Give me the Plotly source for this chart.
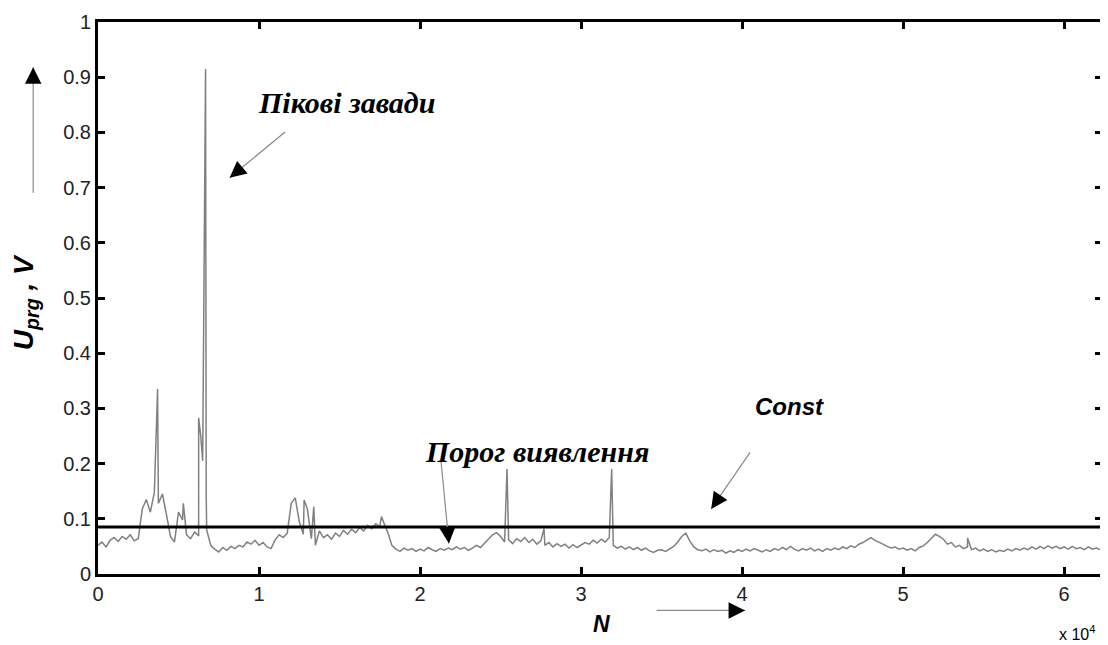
import plotly.graph_objects as go

# ---------------- data ----------------
N_STEP = 250  # sample spacing of the base trace (N units)
u_base = [
    0.052, 0.058, 0.049, 0.061, 0.066, 0.059, 0.068, 0.063, 0.071, 0.060,
    0.064, 0.118, 0.135, 0.112, 0.148, 0.128, 0.145, 0.108, 0.068, 0.058,
    0.112, 0.098, 0.071, 0.064, 0.076, 0.069, 0.205, 0.080, 0.052, 0.045,
    0.040, 0.048, 0.043, 0.050, 0.046, 0.052, 0.049, 0.058, 0.054, 0.061,
    0.052, 0.057, 0.049, 0.046, 0.062, 0.071, 0.066, 0.074, 0.128, 0.138,
    0.095, 0.072, 0.118, 0.064, 0.052, 0.078, 0.066, 0.071, 0.063, 0.074,
    0.068, 0.079, 0.072, 0.081, 0.075, 0.084, 0.078, 0.088, 0.082, 0.091,
    0.086, 0.093, 0.075, 0.052, 0.045, 0.041, 0.047, 0.043, 0.046, 0.041,
    0.045, 0.042, 0.048, 0.044, 0.041, 0.046, 0.043, 0.047, 0.044, 0.049,
    0.045, 0.048, 0.043, 0.047, 0.052, 0.048, 0.056, 0.063, 0.071, 0.075,
    0.068, 0.058, 0.062, 0.055, 0.064, 0.059, 0.066, 0.057, 0.063, 0.054,
    0.060, 0.052, 0.057, 0.049, 0.055, 0.050, 0.054, 0.047, 0.053, 0.048,
    0.052, 0.057, 0.054, 0.061, 0.056, 0.063, 0.058, 0.066, 0.052, 0.047,
    0.050, 0.045, 0.049, 0.044, 0.048, 0.043, 0.047, 0.042, 0.039, 0.043,
    0.044, 0.041, 0.046, 0.050, 0.058, 0.068, 0.074, 0.060, 0.049, 0.044,
    0.042, 0.045, 0.040, 0.044, 0.041, 0.043, 0.038, 0.042, 0.039, 0.044,
    0.041, 0.045, 0.042, 0.046, 0.043, 0.040, 0.044, 0.041, 0.046, 0.043,
    0.048, 0.044, 0.050, 0.045, 0.042, 0.046, 0.043, 0.047, 0.042, 0.045,
    0.041, 0.046, 0.043, 0.047, 0.044, 0.049, 0.046, 0.051, 0.048, 0.054,
    0.057, 0.062, 0.066, 0.061, 0.058, 0.054, 0.050, 0.047, 0.049, 0.045,
    0.047, 0.043, 0.046, 0.042, 0.048, 0.051, 0.057, 0.065, 0.072, 0.068,
    0.063, 0.054, 0.057, 0.049, 0.052, 0.046, 0.049, 0.044, 0.047, 0.042,
    0.045, 0.041, 0.044, 0.040, 0.043, 0.041, 0.045, 0.042, 0.046, 0.043,
    0.047, 0.044, 0.049, 0.045, 0.050, 0.046, 0.051, 0.047, 0.050, 0.046,
    0.049, 0.045, 0.050, 0.046, 0.048, 0.044, 0.049, 0.045, 0.047, 0.044,
]
spike_n = [3700, 5300, 6250, 6380, 6680, 6720, 12800, 13400, 17600,
           25400, 27700, 31900, 54000]
spike_u = [0.335, 0.128, 0.283, 0.250, 0.915, 0.143, 0.134, 0.122, 0.104,
           0.190, 0.082, 0.190, 0.065]
threshold = 0.085

x_range = [0, 62350]
y_range = [0, 1]
x_tickvals = [0, 10000, 20000, 30000, 40000, 50000, 60000]
x_ticktext = ["0", "1", "2", "3", "4", "5", "6"]
y_tickvals = [0, 0.1, 0.2, 0.3, 0.4, 0.5, 0.6, 0.7, 0.8, 0.9, 1]
y_ticktext = ["0", "0.1", "0.2", "0.3", "0.4", "0.5", "0.6", "0.7", "0.8", "0.9", "1"]

# merge base samples with spike samples
pts = [(i * N_STEP, v) for i, v in enumerate(u_base)] + list(zip(spike_n, spike_u))
pts.sort(key=lambda p: p[0])
xs = [p[0] for p in pts]
ys = [p[1] for p in pts]

# ---------------- layout geometry ----------------
# page has an 8px body margin; positions below are page pixels
OFF = 8
PAGE_W, PAGE_H = 1108, 645
W, H = PAGE_W - OFF, PAGE_H - OFF
PL, PR, PT, PB = 98, 1105, 14, 574  # plot area in page pixels
ML, MR, MT, MB = PL - OFF, W - (PR - OFF), PT - OFF, H - (PB - OFF)
PW, PH = PR - PL, PB - PT


def px(xp, yp):
    return (xp - PL) / PW, (PB - yp) / PH


fig = go.Figure()
fig.add_trace(go.Scatter(x=xs, y=ys, mode="lines",
                         line=dict(color="#808080", width=1.5),
                         showlegend=False, hoverinfo="skip"))
fig.add_hline(y=threshold, line=dict(color="black", width=3))

axis_common = dict(showgrid=False, zeroline=False, showline=True, linecolor="black",
                   linewidth=3, mirror="ticks", ticks="inside", ticklen=7,
                   tickwidth=2.5, tickcolor="black", ticklabeloverflow="allow",
                   tickfont=dict(family="Liberation Sans, Arial", size=20, color="#222"))
fig.update_xaxes(range=x_range, tickvals=x_tickvals, ticktext=x_ticktext, **axis_common)
fig.update_yaxes(range=y_range, tickvals=y_tickvals, ticktext=y_ticktext, **axis_common)

annotations = []


def text_ann(xp, yp, text, family, size, anchor="center"):
    x, y = px(xp, yp)
    annotations.append(dict(x=x, y=y, xref="paper", yref="paper", text=text,
                            showarrow=False, xanchor=anchor, yanchor="middle",
                            font=dict(family=family, size=size, color="black")))


def arrow(tail, tip):
    x, y = px(*tip)
    dx, dy = tail[0] - tip[0], tail[1] - tip[1]
    # gray shaft
    annotations.append(dict(x=x, y=y, xref="paper", yref="paper", text="",
                            showarrow=True, arrowhead=0, arrowwidth=1.2,
                            arrowcolor="#8a8a8a", ax=dx, ay=dy))
    # black head
    L = (dx * dx + dy * dy) ** 0.5
    k = 12.0 / L
    annotations.append(dict(x=x, y=y, xref="paper", yref="paper", text="",
                            showarrow=True, arrowhead=2, arrowsize=2.2, arrowwidth=1.5,
                            arrowcolor="black", ax=dx * k, ay=dy * k))


serif = "Liberation Serif, Times New Roman, serif"
sans = "Liberation Sans, Arial, sans-serif"

text_ann(347, 96, "<b><i>Пікові завади</i></b>", serif, 30)
text_ann(538, 450, "<b><i>Порог виявлення</i></b>", serif, 30)
text_ann(792, 404, "<b><i>Const</i></b>", sans, 24)
text_ann(603, 625, "<b><i>N</i></b>", sans, 23)
text_ann(1080, 634, "x 10<sup>4</sup>", sans, 16)

# y-axis title (rotated)
x, y = px(26, 298)
annotations.append(dict(x=x, y=y, xref="paper", yref="paper",
                        text="<b><i>U<sub>prg</sub> , V</i></b>", showarrow=False,
                        textangle=-90, xanchor="center", yanchor="middle",
                        font=dict(family=sans, size=28, color="black")))

arrow((33, 187), (33, 60))
arrow((287, 125), (230, 172))
arrow((442, 460), (450, 543))
arrow((753, 450), (713, 508))
arrow((657, 611), (747, 611))

fig.update_layout(width=W, height=H, margin=dict(l=ML, r=MR, t=MT, b=MB),
                  plot_bgcolor="white", paper_bgcolor="white",
                  annotations=annotations)

fig.write_html("out.html")
